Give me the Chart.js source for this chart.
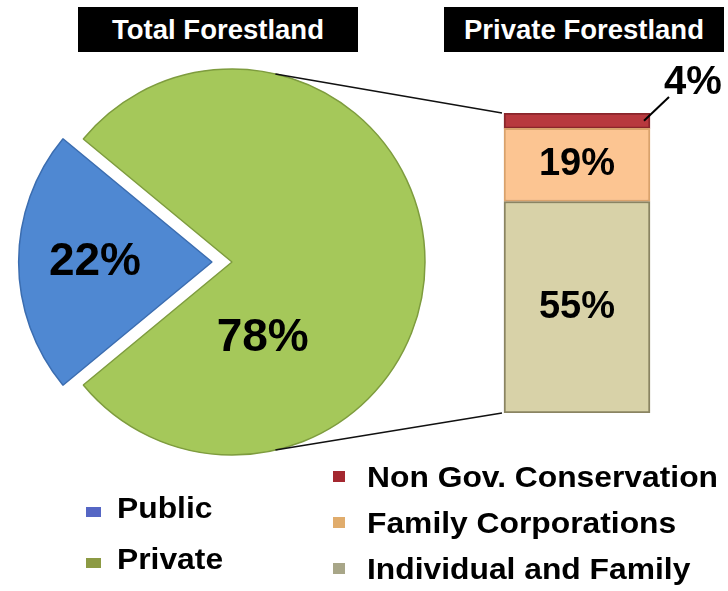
<!DOCTYPE html>
<html><head><meta charset="utf-8">
<script src="https://cdn.jsdelivr.net/npm/chart.js@4.4.0/dist/chart.umd.min.js"></script>
<style>
html,body{margin:0;padding:0;background:#fff;}
#wrap{position:relative;width:728px;height:591px;overflow:hidden;font-family:"Liberation Sans",Arial,sans-serif;}
canvas{position:absolute;left:0;top:0;width:728px;height:591px;}
.title{position:absolute;top:7px;height:45px;width:280px;background:#000;color:#fff;font-weight:bold;font-size:27.5px;line-height:45px;text-align:center;}
.item{position:absolute;white-space:nowrap;font-weight:bold;font-size:30px;line-height:30px;color:#000;transform:scaleX(1.06);transform-origin:0 50%;}
.mk{position:absolute;}
</style></head>
<body><div id="wrap">
<canvas id="pie" width="728" height="591"></canvas>
<canvas id="bar" width="728" height="591"></canvas>
<div class="title" style="left:78px">Total Forestland</div>
<div class="title" style="left:444px">Private Forestland</div>
<div id="leg"></div>
</div>
<script>
// ---- data ----
const pieLabels = ['Public', 'Private'];
const pieValues = [22, 78];
const privateLabels = ['Individual and Family', 'Family Corporations', 'Non Gov. Conservation'];
const privateValues = [55, 19, 4];

// ---- styles ----
const FONT = '"Liberation Sans", Arial, sans-serif';
const pieColors = ['#4f88d2', '#a5c85a'];
const pieBorders = ['#3b6db0', '#7e9c3e'];
const barColors = ['#d8d2a8', '#fcc592', '#b8393e'];
const barBorders = ['#8a8462', '#d9a26c', '#8a262b'];
const pieMarker = ['#5566c4', '#8c9a44'];
const barMarker = ['#a8a688', '#e0ac6c', '#a42830'];

const pieLabelDist = [0.71, 0.425];
const pieLabelTurn = [0, 68];

const pieLabelPlugin = {
  id: 'pieLbl',
  afterDatasetsDraw(chart) {
    const ctx = chart.ctx;
    chart.getDatasetMeta(0).data.forEach((arc, i) => {
      const p = arc.getProps(['x', 'y', 'startAngle', 'endAngle', 'outerRadius']);
      const mid = (p.startAngle + p.endAngle) / 2 + pieLabelTurn[i] * Math.PI / 180;
      const d = p.outerRadius * pieLabelDist[i];
      ctx.save();
      ctx.font = 'bold 46px ' + FONT;
      ctx.fillStyle = '#000';
      ctx.textAlign = 'center';
      ctx.textBaseline = 'middle';
      ctx.fillText(pieValues[i] + '%', p.x + Math.cos(mid) * d, p.y + Math.sin(mid) * d);
      ctx.restore();
    });
  }
};

const pieChart = new Chart(document.getElementById('pie'), {
  type: 'pie',
  data: {
    labels: pieLabels,
    datasets: [{
      data: pieValues,
      backgroundColor: pieColors,
      borderColor: pieBorders,
      borderWidth: 1.5,
      offset: [80, 0],
      radius: 193,
      rotation: 270 - 180 * pieValues[0] / (pieValues[0] + pieValues[1])
    }]
  },
  options: {
    responsive: false,
    animation: false,
    radius: 193,
    rotation: 270 - 180 * pieValues[0] / (pieValues[0] + pieValues[1]),
    layout: { padding: { left: 0, top: 0, right: 264, bottom: 67 } },
    plugins: { legend: { display: false }, tooltip: { enabled: false } }
  },
  plugins: [pieLabelPlugin]
});

const barLabelPlugin = {
  id: 'barLbl',
  afterDatasetsDraw(chart) {
    const ctx = chart.ctx;
    privateValues.forEach((v, i) => {
      const el = chart.getDatasetMeta(i).data[0];
      const p = el.getProps(['x', 'y', 'base', 'width']);
      ctx.save();
      ctx.fillStyle = '#000';
      ctx.textAlign = 'center';
      ctx.textBaseline = 'middle';
      if (i < 2) {
        ctx.font = 'bold 38px ' + FONT;
        ctx.fillText(v + '%', p.x, (p.y + p.base) / 2);
      } else {
        const lx = p.x + p.width / 2 + 43, ly = p.y - 30;
        ctx.font = 'bold 40px ' + FONT;
        ctx.fillText(v + '%', lx, ly);
        ctx.strokeStyle = '#000';
        ctx.lineWidth = 2;
        ctx.beginPath();
        ctx.moveTo(p.x + p.width / 2 - 6, (p.y + p.base) / 2);
        ctx.lineTo(lx - 24, ly + 14);
        ctx.stroke();
      }
      ctx.restore();
    });
  }
};

const connectorPlugin = {
  id: 'conn',
  afterDraw(chart) {
    const ctx = chart.ctx;
    const arc = pieChart.getDatasetMeta(0).data[1].getProps(['x', 'y', 'outerRadius']);
    const top = chart.getDatasetMeta(privateValues.length - 1).data[0].getProps(['x', 'y', 'width']);
    const bot = chart.getDatasetMeta(0).data[0].getProps(['x', 'base', 'width']);
    const a = 77 * Math.PI / 180;
    ctx.save();
    ctx.strokeStyle = '#111';
    ctx.lineWidth = 1.5;
    ctx.beginPath();
    ctx.moveTo(arc.x + Math.cos(-a) * arc.outerRadius, arc.y + Math.sin(-a) * arc.outerRadius);
    ctx.lineTo(top.x - top.width / 2 - 2, top.y);
    ctx.moveTo(arc.x + Math.cos(a) * arc.outerRadius, arc.y + Math.sin(a) * arc.outerRadius);
    ctx.lineTo(bot.x - bot.width / 2 - 2, bot.base);
    ctx.stroke();
    ctx.restore();
  }
};

new Chart(document.getElementById('bar'), {
  type: 'bar',
  data: {
    labels: ['Private Forestland'],
    datasets: privateLabels.map((l, i) => ({
      label: l,
      data: [privateValues[i]],
      backgroundColor: barColors[i],
      borderColor: barBorders[i],
      borderWidth: 2,
      borderSkipped: false,
      barThickness: 146
    }))
  },
  options: {
    responsive: false,
    animation: false,
    layout: { padding: { left: 467, right: 41, top: 113, bottom: 178 } },
    scales: {
      x: { display: false, stacked: true },
      y: { display: false, stacked: true, min: 0, max: pieValues[1] }
    },
    plugins: { legend: { display: false }, tooltip: { enabled: false } }
  },
  plugins: [barLabelPlugin, connectorPlugin]
});

// ---- legends (HTML) ----
const leg = document.getElementById('leg');
function addItem(text, color, mx, my, mw, mh, tx, baseline) {
  const m = document.createElement('div');
  m.className = 'mk';
  m.style.cssText = `left:${mx}px;top:${my}px;width:${mw}px;height:${mh}px;background:${color};`;
  leg.appendChild(m);
  const t = document.createElement('div');
  t.className = 'item';
  t.textContent = text;
  t.style.left = tx + 'px';
  t.style.top = (baseline - 25) + 'px';
  leg.appendChild(t);
}
pieLabels.forEach((l, i) => {
  const b = 518 + i * 51;
  addItem(l, pieMarker[i], 86, b - 11, 15, 10, 117, b);
});
privateLabels.slice().reverse().forEach((l, k) => {
  const i = privateLabels.length - 1 - k;
  const b = 487 + k * 46;
  addItem(l, barMarker[i], 333, b - 16, 12, 11, 367, b);
});
</script>
</body></html>
